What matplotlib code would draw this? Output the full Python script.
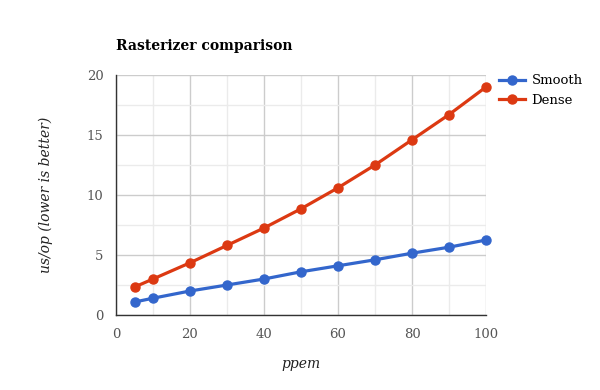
import matplotlib.pyplot as plt
from matplotlib.ticker import MultipleLocator

ppem = [5, 10, 20, 30, 40, 50, 60, 70, 80, 90, 100]
smooth = [1.08, 1.4, 2.0, 2.5, 3.0, 3.6, 4.1, 4.6, 5.15, 5.65, 6.25]
dense = [2.33, 3.0, 4.35, 5.8, 7.25, 8.85, 10.6, 12.5, 14.6, 16.7, 19.0]

plt.rcParams['font.family'] = 'DejaVu Serif'

fig = plt.figure(figsize=(6, 3.9), dpi=100)
ax = fig.add_axes([116/600, 1 - 315/390, 370/600, 240/390])

ax.plot(ppem, smooth, color='#3366cc', lw=2.3, marker='o', ms=6.5, label='Smooth', clip_on=False, zorder=4)
ax.plot(ppem, dense, color='#dc3912', lw=2.3, marker='o', ms=6.5, label='Dense', clip_on=False, zorder=4)

ax.set_xlim(0, 100)
ax.set_ylim(0, 20)
ax.xaxis.set_major_locator(MultipleLocator(20))
ax.xaxis.set_minor_locator(MultipleLocator(10))
ax.yaxis.set_major_locator(MultipleLocator(5))
ax.yaxis.set_minor_locator(MultipleLocator(2.5))
ax.grid(which='major', color='#cccccc', lw=1)
ax.grid(which='minor', color='#ebebeb', lw=1)
ax.set_axisbelow(True)
ax.tick_params(which='both', length=0, labelsize=9.5, labelcolor='#555555', pad=9)

for s in ['top', 'right']:
    ax.spines[s].set_visible(False)
for s in ['left', 'bottom']:
    ax.spines[s].set_color('#333333')
    ax.spines[s].set_linewidth(1)

ax.set_xlabel('ppem', style='italic', fontsize=10, color='#222222', labelpad=12)
ax.set_ylabel('us/op (lower is better)', style='italic', fontsize=10, color='#222222', labelpad=24)
fig.text(116/600, 1 - 46/390, 'Rasterizer comparison', fontsize=10, fontweight='bold', va='center')

ax.legend(loc='upper left', bbox_to_anchor=(1.02, 1.025), frameon=False, fontsize=9.5,
          handlelength=2.0, labelspacing=0.5, handletextpad=0.5, borderaxespad=0)

fig.savefig('out.png', dpi=100)
